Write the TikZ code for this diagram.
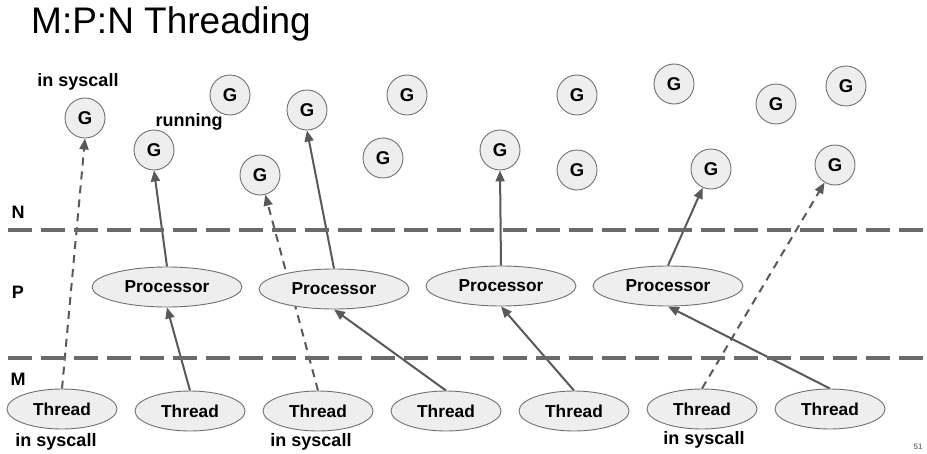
\documentclass[tikz,border=0pt]{standalone}
\usepackage{fontspec}
\setmainfont{Liberation Sans}
\usetikzlibrary{shapes.geometric,arrows.meta,backgrounds}
\definecolor{lineg}{HTML}{595959}
\definecolor{fillg}{HTML}{EEEEEE}
\definecolor{bordg}{HTML}{707070}
\tikzset{
  gnode/.style={circle, draw=bordg, line width=0.9pt, fill=fillg, minimum size=40pt, inner sep=0pt, font=\fontsize{18.5}{18.5}\selectfont\bfseries},
  procnode/.style={ellipse, draw=bordg, line width=0.9pt, fill=fillg, minimum width=150pt, minimum height=40pt, inner sep=0pt, font=\fontsize{17.3}{17.3}\selectfont\bfseries},
  thrnode/.style={ellipse, draw=bordg, line width=0.9pt, fill=fillg, minimum width=110pt, minimum height=40pt, inner sep=0pt, font=\fontsize{17.3}{17.3}\selectfont\bfseries},
  lbl/.style={inner sep=0pt, font=\fontsize{18}{18}\selectfont\bfseries},
  sep/.style={draw=lineg!90, line width=3.5pt, dash pattern=on 24pt off 9pt},
  arr/.style={draw=lineg, line width=2pt, -{Triangle[length=11pt,width=9pt]}},
  darr/.style={arr, dash pattern=on 8pt off 6pt},
}
\begin{document}
\begin{tikzpicture}[x=1pt,y=-1pt]
\useasboundingbox (0,0) rectangle (927,453);
% title
\node[anchor=west, inner sep=0pt, font=\fontsize{37}{37}\selectfont] (title) at (31,24) {M:P:N Threading};
% layer labels
\node[lbl] (lN) at (18,212) {N};
\node[lbl] (lP) at (18,292) {P};
\node[lbl] (lM) at (18,379) {M};
% separators
\coordinate (s1a) at (8,230); \coordinate (s1b) at (927,230);
\coordinate (s2a) at (8,358); \coordinate (s2b) at (927,358);
\draw[sep] (s1a) -- (s1b);
\draw[sep] (s2a) -- (s2b);
% goroutines
\node[gnode] (g1) at (85,118) {G};
\node[gnode] (g2) at (154,150) {G};
\node[gnode] (g3) at (230,95) {G};
\node[gnode] (g4) at (307,110) {G};
\node[gnode] (g5) at (260,175) {G};
\node[gnode] (g6) at (407,95) {G};
\node[gnode] (g7) at (383,158) {G};
\node[gnode] (g8) at (500,150) {G};
\node[gnode] (g9) at (577,95) {G};
\node[gnode] (g10) at (674,84) {G};
\node[gnode] (g11) at (776,104) {G};
\node[gnode] (g12) at (846,86) {G};
\node[gnode] (g13) at (577,170) {G};
\node[gnode] (g14) at (711,169) {G};
\node[gnode] (g15) at (835,165) {G};
% processors
\node[procnode] (p1) at (167,287) {Processor};
\node[procnode] (p2) at (334,289) {Processor};
\node[procnode] (p3) at (501,286) {Processor};
\node[procnode] (p4) at (668,286) {Processor};
% threads
\node[thrnode] (t1) at (62,409) {Thread};
\node[thrnode] (t2) at (190,411) {Thread};
\node[thrnode] (t3) at (318,411) {Thread};
\node[thrnode] (t4) at (446,411) {Thread};
\node[thrnode] (t5) at (574,411) {Thread};
\node[thrnode] (t6) at (702,409) {Thread};
\node[thrnode] (t7) at (830,409) {Thread};
% labels
\node[lbl] (ls1) at (78,82) {in syscall};
\node[lbl] (lrun) at (189,122) {running};
\node[lbl] (ls2) at (56,442) {in syscall};
\node[lbl] (ls3) at (311,442) {in syscall};
\node[lbl] (ls4) at (704,440) {in syscall};
\node[inner sep=0pt, text=gray, font=\fontsize{8}{8}\selectfont\bfseries] (pg) at (918,447) {51};
% connectors
\begin{scope}[on background layer]
\draw[darr] (t1.north) -- (g1.south);
\draw[arr] (t2.north) -- (p1.south);
\draw[arr] (p1.north) -- (g2.south);
\draw[darr] (t3.north) -- (g5);
\draw[arr] (p2.north) -- (g4.south);
\draw[arr] (t4.north) -- (p2.south);
\draw[arr] (p3.north) -- (g8.south);
\draw[arr] (t5.north) -- (p3.south);
\draw[darr] (t6.north) -- (g15);
\draw[arr] (p4.north) -- (g14);
\draw[arr] (t7.north) -- (p4.south);
\end{scope}
\end{tikzpicture}
\end{document}
